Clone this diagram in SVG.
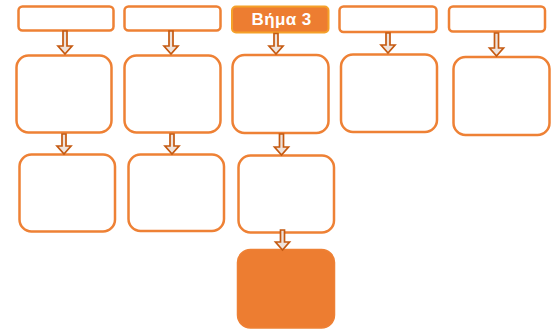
<svg xmlns="http://www.w3.org/2000/svg" width="555" height="329" viewBox="0 0 555 329">
<style>
.box{fill:#FFFFFF;stroke:#EE8135;stroke-width:2.5}
.hdr{fill:#ED7D31;stroke:#F5A12A;stroke-width:2}
.fill{fill:#ED7D31;stroke:#EE8135;stroke-width:1.5}
.arr{fill:#EFE3DC;stroke:#C55A11;stroke-width:1.7;stroke-linejoin:miter}
.lbl{font-family:"Liberation Sans",Arial,sans-serif;font-weight:bold;font-size:17px;letter-spacing:0.4px;fill:#FFFFFF;text-anchor:middle}
</style>
<rect width="555" height="329" fill="#FFFFFF"/>
<g id="top1"><rect class="box" x="18.5" y="6.5" width="95" height="24" rx="4"/></g>
<g id="top2"><rect class="box" x="124.5" y="6.5" width="96" height="24" rx="4"/></g>
<g id="top3"><rect class="hdr" x="232" y="6.5" width="96.5" height="26" rx="4"/><text class="lbl" x="281.5" y="25">Βήμα 3</text></g>
<g id="top4"><rect class="box" x="339.5" y="6.5" width="97" height="25.5" rx="4"/></g>
<g id="top5"><rect class="box" x="449" y="6.5" width="96" height="25" rx="4"/></g>
<g id="mid1"><rect class="box" x="16.5" y="55.5" width="95" height="77" rx="12"/></g>
<g id="mid2"><rect class="box" x="124.5" y="55.5" width="96" height="77" rx="12"/></g>
<g id="mid3"><rect class="box" x="232.5" y="55" width="96" height="78" rx="12"/></g>
<g id="mid4"><rect class="box" x="341" y="54.5" width="96" height="77.5" rx="12"/></g>
<g id="mid5"><rect class="box" x="453.5" y="57" width="96" height="78" rx="12"/></g>
<g id="low1"><rect class="box" x="19.5" y="154.5" width="95.5" height="77" rx="12"/></g>
<g id="low2"><rect class="box" x="128.5" y="154.5" width="95.5" height="76.5" rx="12"/></g>
<g id="low3"><rect class="box" x="238.5" y="155.5" width="95.5" height="77" rx="12"/></g>
<g id="final"><rect class="fill" x="237.5" y="249.5" width="97" height="78.5" rx="13"/></g>
<g id="connectors">
<path class="arr" d="M63,31H67V46H72L65,54L58,46H63Z"/>
<path class="arr" d="M169,31H173V46H178L171,54L164,46H169Z"/>
<path class="arr" d="M274,33.5H278V46H283L276,54L269,46H274Z"/>
<path class="arr" d="M386,33H390V45H395L388,53L381,45H386Z"/>
<path class="arr" d="M494.5,33H498.5V48H503.5L496.5,56L489.5,48H494.5Z"/>
<path class="arr" d="M62,134H66V146H71L64,154L57,146H62Z"/>
<path class="arr" d="M170,134H174V146H179L172,154L165,146H170Z"/>
<path class="arr" d="M279.5,134H283.5V147H288.5L281.5,155L274.5,147H279.5Z"/>
<path class="arr" d="M280.5,230H284.5V242H289.5L282.5,250L275.5,242H280.5Z"/>
</g>
</svg>
